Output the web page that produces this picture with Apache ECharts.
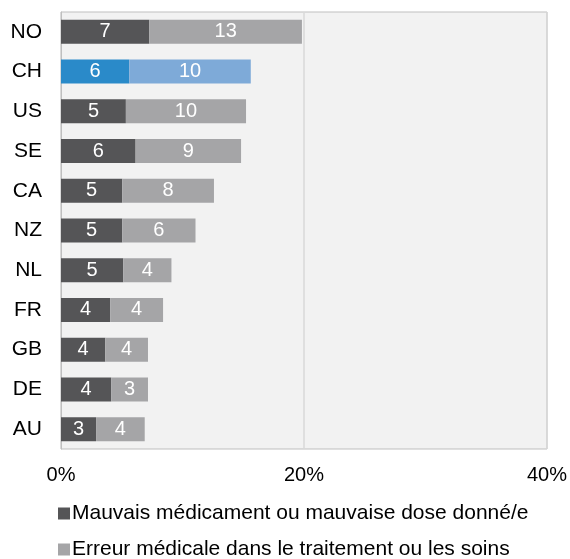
<!DOCTYPE html>
<html>
<head>
<meta charset="utf-8">
<script src="https://cdn.jsdelivr.net/npm/echarts@6/dist/echarts.min.js"></script>
<style>html,body{margin:0;padding:0;background:#fff;}#c{width:570px;height:559px;}</style>
</head>
<body>
<div id="c"></div>
<script>
const categories = ['NO','CH','US','SE','CA','NZ','NL','FR','GB','DE','AU'];
const wrongMedication = [7.27, 5.62, 5.34, 6.14, 5.04, 5.04, 5.12, 4.05, 3.64, 4.13, 2.89];
const medicalError = [12.56, 10.0, 9.89, 8.68, 7.55, 6.03, 3.97, 4.35, 3.52, 3.03, 4.0];
const seriesNames = ['Mauvais médicament ou mauvaise dose donné/e', 'Erreur médicale dans le traitement ou les soins'];
const xTicks = [0, 20, 40];

const FONT = '"Liberation Sans", Arial, sans-serif';
const darkCol = '#555557', lightCol = '#a5a5a7';
const chDark = '#2a8ac9', chLight = '#7eaad8';

function mk(vals, base, hl) {
  return vals.map((v, i) => ({
    value: v,
    itemStyle: { color: categories[i] === 'CH' ? hl : base }
  }));
}
function legendFor(idx, top, col) {
  return {
    left: 58, top: top, padding: 0, itemWidth: 12, itemHeight: 12, icon: 'rect',
    data: [{ name: seriesNames[idx], itemStyle: { color: col } }],
    textStyle: { color: '#000', fontSize: 21, fontFamily: FONT, padding: [0,0,0,-3] }
  };
}

const chart = echarts.init(document.getElementById('c'), null, {renderer: 'canvas'});
chart.setOption({
  animation: false,
  backgroundColor: '#ffffff',
  grid: { left: 61, top: 12, right: 23, height: 437, show: true, backgroundColor: '#f2f2f2', borderColor: '#bfbfbf', borderWidth: 1 },
  xAxis: {
    type: 'value', min: xTicks[0], max: xTicks[xTicks.length-1], interval: 20,
    axisLine: { show: false }, axisTick: { show: false },
    splitLine: { show: true, lineStyle: { color: '#d9d9d9', width: 1.5 } },
    axisLabel: { formatter: v => v + '%', color: '#000', fontSize: 20, fontFamily: FONT, margin: 16 }
  },
  yAxis: {
    type: 'category', data: categories, inverse: true,
    axisLine: { show: true, lineStyle: { color: '#bfbfbf' } }, axisTick: { show: false },
    axisLabel: { color: '#000', fontSize: 21, fontFamily: FONT, margin: 19 }
  },
  legend: [ legendFor(0, 503, darkCol), legendFor(1, 539, lightCol) ],
  series: [
    { name: seriesNames[0], type: 'bar', stack: 'a', barWidth: 24, data: mk(wrongMedication, darkCol, chDark), itemStyle: { color: darkCol },
      label: { show: true, position: 'inside', color: '#fff', fontSize: 20, fontFamily: FONT, formatter: p => Math.round(p.value) } },
    { name: seriesNames[1], type: 'bar', stack: 'a', barWidth: 24, data: mk(medicalError, lightCol, chLight), itemStyle: { color: lightCol },
      label: { show: true, position: 'inside', color: '#fff', fontSize: 20, fontFamily: FONT, formatter: p => Math.round(p.value) } }
  ]
});
</script>
</body>
</html>
